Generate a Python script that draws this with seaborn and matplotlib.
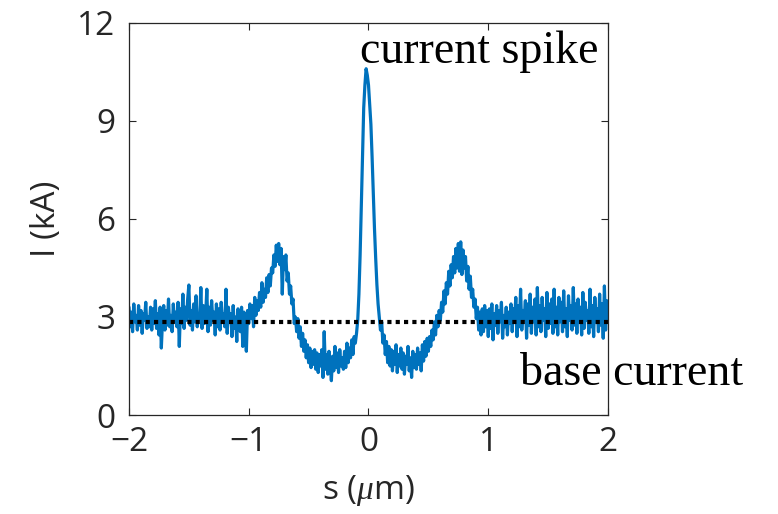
import numpy as np
import pandas as pd
import matplotlib
matplotlib.use("Agg")
import matplotlib.pyplot as plt
import seaborn as sns

# ---- data (step 0.01 um from -2 to 2) ----
s_start, s_stop, s_step = -2.0, 2.0, 0.01
current_kA = [
    # -2.00 .. -1.81
    3.30, 2.70, 3.15, 2.55, 3.40, 2.85, 3.05, 2.60, 3.35, 2.75, 3.20, 2.50, 3.10, 2.90, 3.45, 2.65, 3.00, 2.70, 3.30, 2.60,
    # -1.80 .. -1.61
    3.25, 2.80, 3.50, 2.65, 3.10, 2.45, 3.30, 2.05, 2.90, 3.35, 2.60, 3.20, 2.75, 3.55, 2.70, 3.05, 2.55, 3.40, 2.85, 3.15,
    # -1.60 .. -1.41
    2.70, 3.45, 2.10, 3.25, 2.80, 3.70, 2.65, 3.30, 2.90, 3.55, 3.98, 2.75, 3.20, 2.60, 3.40, 2.85, 3.65, 2.70, 3.10, 2.95,
    # -1.40 .. -1.21
    3.90, 2.65, 3.35, 2.80, 3.05, 3.85, 2.55, 3.30, 2.75, 3.50, 2.90, 3.15, 2.45, 3.40, 2.70, 3.25, 2.60, 3.45, 2.85, 3.10,
    # -1.20 .. -1.01
    2.70, 3.85, 2.50, 3.30, 2.85, 3.10, 2.40, 3.35, 2.65, 3.00, 2.25, 3.25, 2.80, 2.55, 3.30, 2.10, 3.15, 2.70, 1.95, 3.20,
    # -1.00 .. -0.81
    2.80, 3.40, 2.95, 3.35, 2.70, 3.60, 3.05, 3.50, 3.20, 3.75, 3.30, 4.05, 3.45, 3.85, 3.60, 4.20, 3.75, 4.30, 3.95, 4.50,
    # -0.80 .. -0.61
    4.35, 4.90, 4.55, 5.20, 4.70, 5.25, 4.60, 5.10, 3.70, 4.85, 4.45, 4.90, 4.10, 4.35, 3.70, 3.95, 3.40, 3.55, 2.80, 3.00,
    # -0.60 .. -0.41
    2.55, 2.95, 2.35, 2.70, 2.10, 2.50, 1.95, 2.30, 1.75, 2.15, 1.60, 2.05, 1.45, 1.95, 1.55, 2.00, 1.40, 1.90, 1.30, 1.85,
    # -0.40 .. -0.21
    1.50, 2.00, 1.15, 2.55, 1.40, 1.85, 1.25, 1.95, 1.55, 1.05, 1.80, 1.35, 2.10, 1.45, 1.90, 1.30, 2.00, 1.50, 1.75, 1.40,
    # -0.20 .. -0.01
    1.95, 1.45, 2.20, 1.60, 2.05, 1.75, 2.30, 1.85, 2.40, 2.20, 2.50, 2.90, 3.70, 4.90, 6.40, 8.00, 9.40, 10.10, 10.60, 10.40,
    # 0.00 .. 0.19
    10.10, 9.50, 8.90, 7.90, 6.80, 5.70, 4.80, 4.00, 3.40, 3.00, 2.60, 2.85, 2.20, 2.45, 1.85, 2.25, 1.60, 2.10, 1.50, 2.00,
    # 0.20 .. 0.39
    1.35, 1.95, 1.55, 2.15, 1.30, 1.85, 1.50, 2.05, 1.40, 1.90, 1.25, 1.80, 1.55, 2.10, 1.35, 1.75, 1.15, 1.95, 1.45, 1.85,
    # 0.40 .. 0.59
    1.40, 2.05, 1.55, 1.90, 1.35, 2.15, 1.65, 2.25, 1.80, 2.35, 1.95, 2.40, 2.10, 2.60, 2.30, 2.85, 2.45, 3.05, 2.70, 3.20,
    # 0.60 .. 0.79
    2.90, 3.45, 3.15, 3.80, 3.40, 4.05, 3.70, 4.40, 3.95, 4.60, 4.20, 4.85, 4.35, 5.10, 4.50, 5.25, 4.40, 5.30, 4.30, 5.05,
    # 0.80 .. 0.99
    4.50, 4.85, 4.10, 4.55, 3.85, 4.25, 3.60, 3.85, 3.30, 3.55, 2.95, 3.30, 2.60, 3.15, 2.45, 3.25, 2.55, 3.35, 2.70, 3.20,
    # 1.00 .. 1.19
    2.40, 3.25, 2.65, 3.40, 2.30, 3.10, 2.75, 3.35, 2.50, 3.20, 2.85, 3.45, 2.35, 3.05, 2.70, 3.30, 2.45, 3.15, 2.80, 3.40,
    # 1.20 .. 1.39
    2.55, 3.25, 2.90, 3.60, 2.40, 3.35, 2.70, 3.85, 2.60, 3.20, 2.95, 3.50, 2.35, 3.40, 2.75, 3.70, 2.50, 3.30, 2.85, 3.55,
    # 1.40 .. 1.59
    2.45, 3.90, 2.70, 3.35, 2.55, 3.60, 2.90, 3.25, 2.40, 3.75, 2.65, 3.40, 2.80, 3.55, 2.50, 3.85, 2.70, 3.30, 2.45, 3.60,
    # 1.60 .. 1.79
    2.85, 3.45, 2.55, 3.80, 2.70, 3.25, 2.40, 3.65, 2.90, 3.35, 2.60, 3.90, 2.75, 3.40, 2.50, 3.55, 2.85, 3.30, 2.45, 3.75,
    # 1.80 .. 1.99
    2.65, 3.45, 2.90, 3.20, 2.50, 3.85, 2.70, 3.35, 2.40, 3.60, 2.85, 3.25, 2.55, 3.70, 2.75, 3.40, 2.35, 3.95, 2.60, 3.50,
    # 2.00
    2.90,
]
base_current_kA = 2.85
x_ticks = [-2, -1, 0, 1, 2]
y_ticks = [0, 3, 6, 9, 12]
label_spike = "current spike"
label_base = "base current"

s_um = np.round(np.linspace(s_start, s_stop, len(current_kA)), 4)
df = pd.DataFrame({"s": s_um, "I": current_kA})

# ---- style ----
sns.set_theme(style="white")
plt.rcParams["font.family"] = ["Open Sans", "DejaVu Sans"]
plt.rcParams["mathtext.fontset"] = "custom"
plt.rcParams["mathtext.rm"] = "Open Sans"
plt.rcParams["mathtext.it"] = "Liberation Serif:italic"

axis_col = "#262626"
fig = plt.figure(figsize=(7.78, 5.14), dpi=100)
ax = fig.add_axes([0.1658, 0.1926, 0.6157, 0.7627])

sns.lineplot(data=df, x="s", y="I", ax=ax, color="#0072BD", linewidth=2.3,
             estimator=None, sort=False)
ax.plot([s_start, s_stop], [base_current_kA, base_current_kA], color="black",
        linewidth=3.0, linestyle=(0, (1, 1)), dash_capstyle="butt")

ax.set_xlim(-2, 2)
ax.set_ylim(0, 12)
ax.set_xticks(x_ticks)
ax.set_yticks(y_ticks)
ax.set_xticklabels([str(t).replace("-", "\u2212") for t in x_ticks])
ax.set_yticklabels([str(t) for t in y_ticks])
ax.tick_params(axis="both", which="both", direction="in", length=5, width=0.8,
               colors=axis_col, labelsize=24, top=True, right=True,
               bottom=True, left=True)
ax.tick_params(axis="x", pad=8)
ax.tick_params(axis="y", pad=10)
for sp in ax.spines.values():
    sp.set_color(axis_col)
    sp.set_linewidth(0.9)
    sp.set_visible(True)

ax.set_xlabel(r"s ($\mu$m)", fontsize=24, color=axis_col, labelpad=10)
ax.set_ylabel("I (kA)", fontsize=24, color=axis_col, labelpad=10)

serif = ["Liberation Serif", "DejaVu Serif"]
ax.text(-0.071, 10.77, label_spike, family=serif, fontsize=33, color="black",
        ha="left", va="baseline")
ax.text(1.265, 0.92, label_base, family=serif, fontsize=33, color="black",
        ha="left", va="baseline", clip_on=False)

fig.savefig("out.png", dpi=100)
